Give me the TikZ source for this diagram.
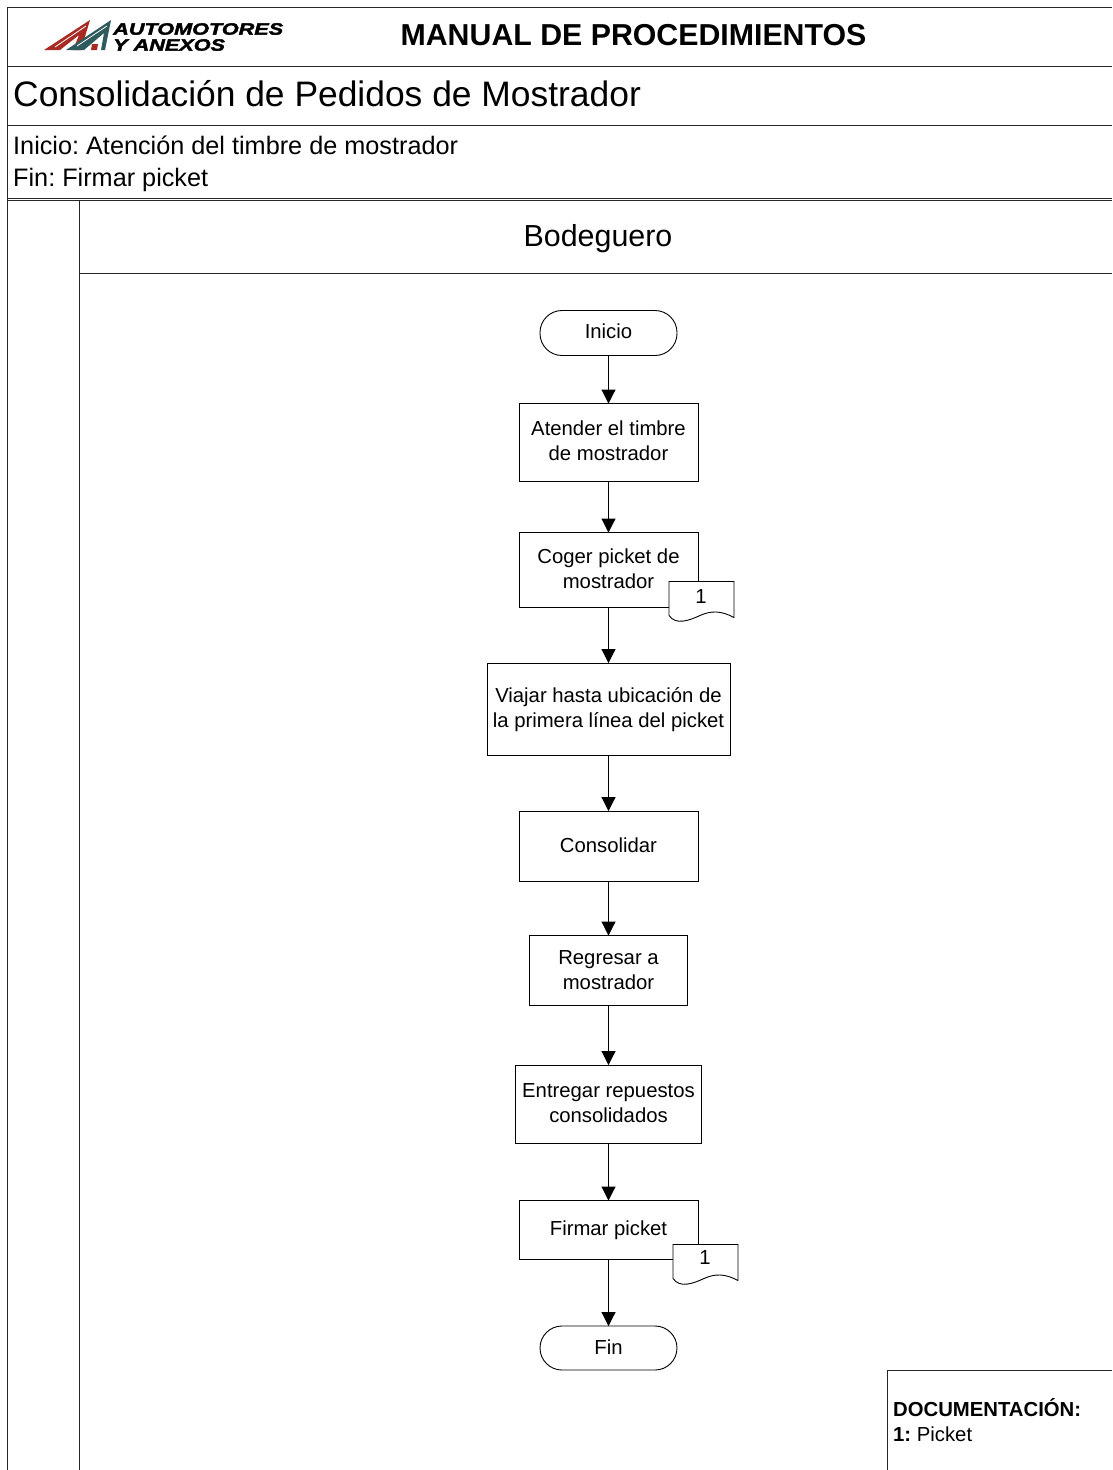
\documentclass[tikz,border=0pt]{standalone}
\usepackage{fontspec}
\setmainfont{Liberation Sans}
\newfontfamily\logofont[BoldItalicFeatures={FakeBold=2.5,FakeStretch=1.32}]{Liberation Sans}
\frenchspacing
\usetikzlibrary{arrows.meta}
\definecolor{logored}{HTML}{A82A24}
\definecolor{logoteal}{HTML}{2F5A5E}
\tikzset{
  x=1pt,y=-1pt,
  frameline/.style={draw=black!85,line width=1pt},
  procbox/.style={draw=black,line width=0.9pt,fill=white,align=center,inner sep=0pt,font=\fontsize{20.3}{25}\selectfont},
  termbox/.style={procbox,rounded corners=22pt},
  flow/.style={draw=black,line width=0.9pt,shorten >=-0.5pt,-{Triangle[length=14pt,width=14pt]}},
  docshape/.style={draw=black,line width=0.9pt,fill=white},
  plain/.style={inner sep=0pt,anchor=west,align=left},
}
\newcommand{\dn}[1]{\rule[-#1pt]{0pt}{#1pt}}
\newcommand{\docsym}[4]{% x, y, name, text offset
  \begin{scope}[shift={(#1,#2)}]
  \path[docshape] (0,0) -- (65,0) -- (65,36) .. controls (52,29) and (42,29) .. (31,34) .. controls (20,39) and (7,44) .. (0,34) -- cycle;
  \node[inner sep=0pt,font=\fontsize{20.3}{25}\selectfont] (#3) at (32,#4) {1};
  \end{scope}
}
\begin{document}
\begin{tikzpicture}
\useasboundingbox (0,0) rectangle (1112,1470);
\fill[white] (0,0) rectangle (1112,1470);
% frame
\draw[frameline] (1112,7) -- (7.5,7) -- (7.5,1470);
\draw[frameline] (7.5,66) -- (1112,66);
\draw[frameline] (7.5,125) -- (1112,125);
\draw[frameline] (7.5,198) -- (1112,198);
\draw[frameline] (7.5,200) -- (1112,200);
\draw[frameline] (79,200) -- (79,1470);
\draw[frameline] (79,273) -- (1112,273);
\draw[frameline] (1112,1370.5) -- (887.5,1370.5) -- (887.5,1470);
% logo
\fill[logored] (44,50) -- (90,20) -- (81,50) -- (73,50) -- (79,35) -- (60,50) -- cycle;
\draw[white,line width=0.8pt] (55,47) -- (86,26);
\fill[logoteal] (66,50) -- (111,20) -- (105,50) -- (101,50) -- (104,33) -- (84,50) -- cycle;
\draw[white,line width=0.8pt] (77,46) -- (107,26);
\fill[logored] (91,50) -- (92,44) -- (98,44) -- (97,50) -- cycle;
\node[inner sep=0pt,anchor=west] (logoa) at (113,29) {\fontsize{16.4}{16}\logofont\bfseries\itshape AUTOMOTORES};
\node[inner sep=0pt,anchor=west] (logob) at (113,45) {\fontsize{16.4}{16}\logofont\bfseries\itshape Y ANEXOS};
% headings
\node[inner sep=0pt] (manual) at (633.5,35.5) {\fontsize{30.3}{36}\selectfont\bfseries MANUAL DE PROCEDIMIENTOS};
\node[plain] (title) at (13,94) {\fontsize{35.4}{42}\selectfont Consolidación de Pedidos de Mostrador};
\node[plain] (inicio) at (13,145.5) {\fontsize{25.25}{32}\selectfont Inicio: Atención del timbre de mostrador};
\node[plain] (fin) at (13,180) {\fontsize{25.25}{32}\selectfont Fin: Firmar picket};
\node[inner sep=0pt] (lane) at (598,239) {\fontsize{30.4}{36}\selectfont Bodeguero};
% flow
\node[termbox,minimum width=137pt,minimum height=45pt] (n0) at (608.5,333) {Inicio\dn{4}};
\node[procbox,minimum width=179pt,minimum height=78pt] (n1) at (608.5,442.5) {Atender el timbre\\de mostrador\dn{4}};
\node[procbox,minimum width=179pt,minimum height=75pt] (n2) at (608.5,570) {Coger picket de\\mostrador\dn{2}};
\node[procbox,minimum width=243pt,minimum height=92pt] (n3) at (608.5,709) {\rule{0pt}{17pt}Viajar hasta ubicación de\\la primera línea del picket};
\node[procbox,minimum width=179pt,minimum height=70pt] (n4) at (608.5,846) {Consolidar\dn{2}};
\node[procbox,minimum width=158pt,minimum height=70pt] (n5) at (608.5,970.5) {Regresar a\\mostrador};
\node[procbox,minimum width=186pt,minimum height=78pt] (n6) at (608.5,1104) {Entregar repuestos\\consolidados\dn{2}};
\node[procbox,minimum width=179pt,minimum height=59pt] (n7) at (608.5,1230) {Firmar picket};
\node[termbox,minimum width=137pt,minimum height=44pt] (n8) at (608.5,1348) {Fin\dn{2}};
\foreach \a/\b in {n0/n1,n1/n2,n2/n3,n3/n4,n4/n5,n5/n6,n6/n7,n7/n8}
  \draw[flow] (\a) -- (\b);
\docsym{669}{581.5}{d1}{15.5}
\docsym{673}{1244.5}{d2}{13.5}
% documentation
\node[plain] (doca) at (893,1408) {\fontsize{20.3}{25}\selectfont\bfseries DOCUMENTACIÓN:};
\node[plain] (docb) at (893,1434) {\fontsize{20.3}{25}\selectfont\textbf{1:} Picket};
\end{tikzpicture}
\end{document}
